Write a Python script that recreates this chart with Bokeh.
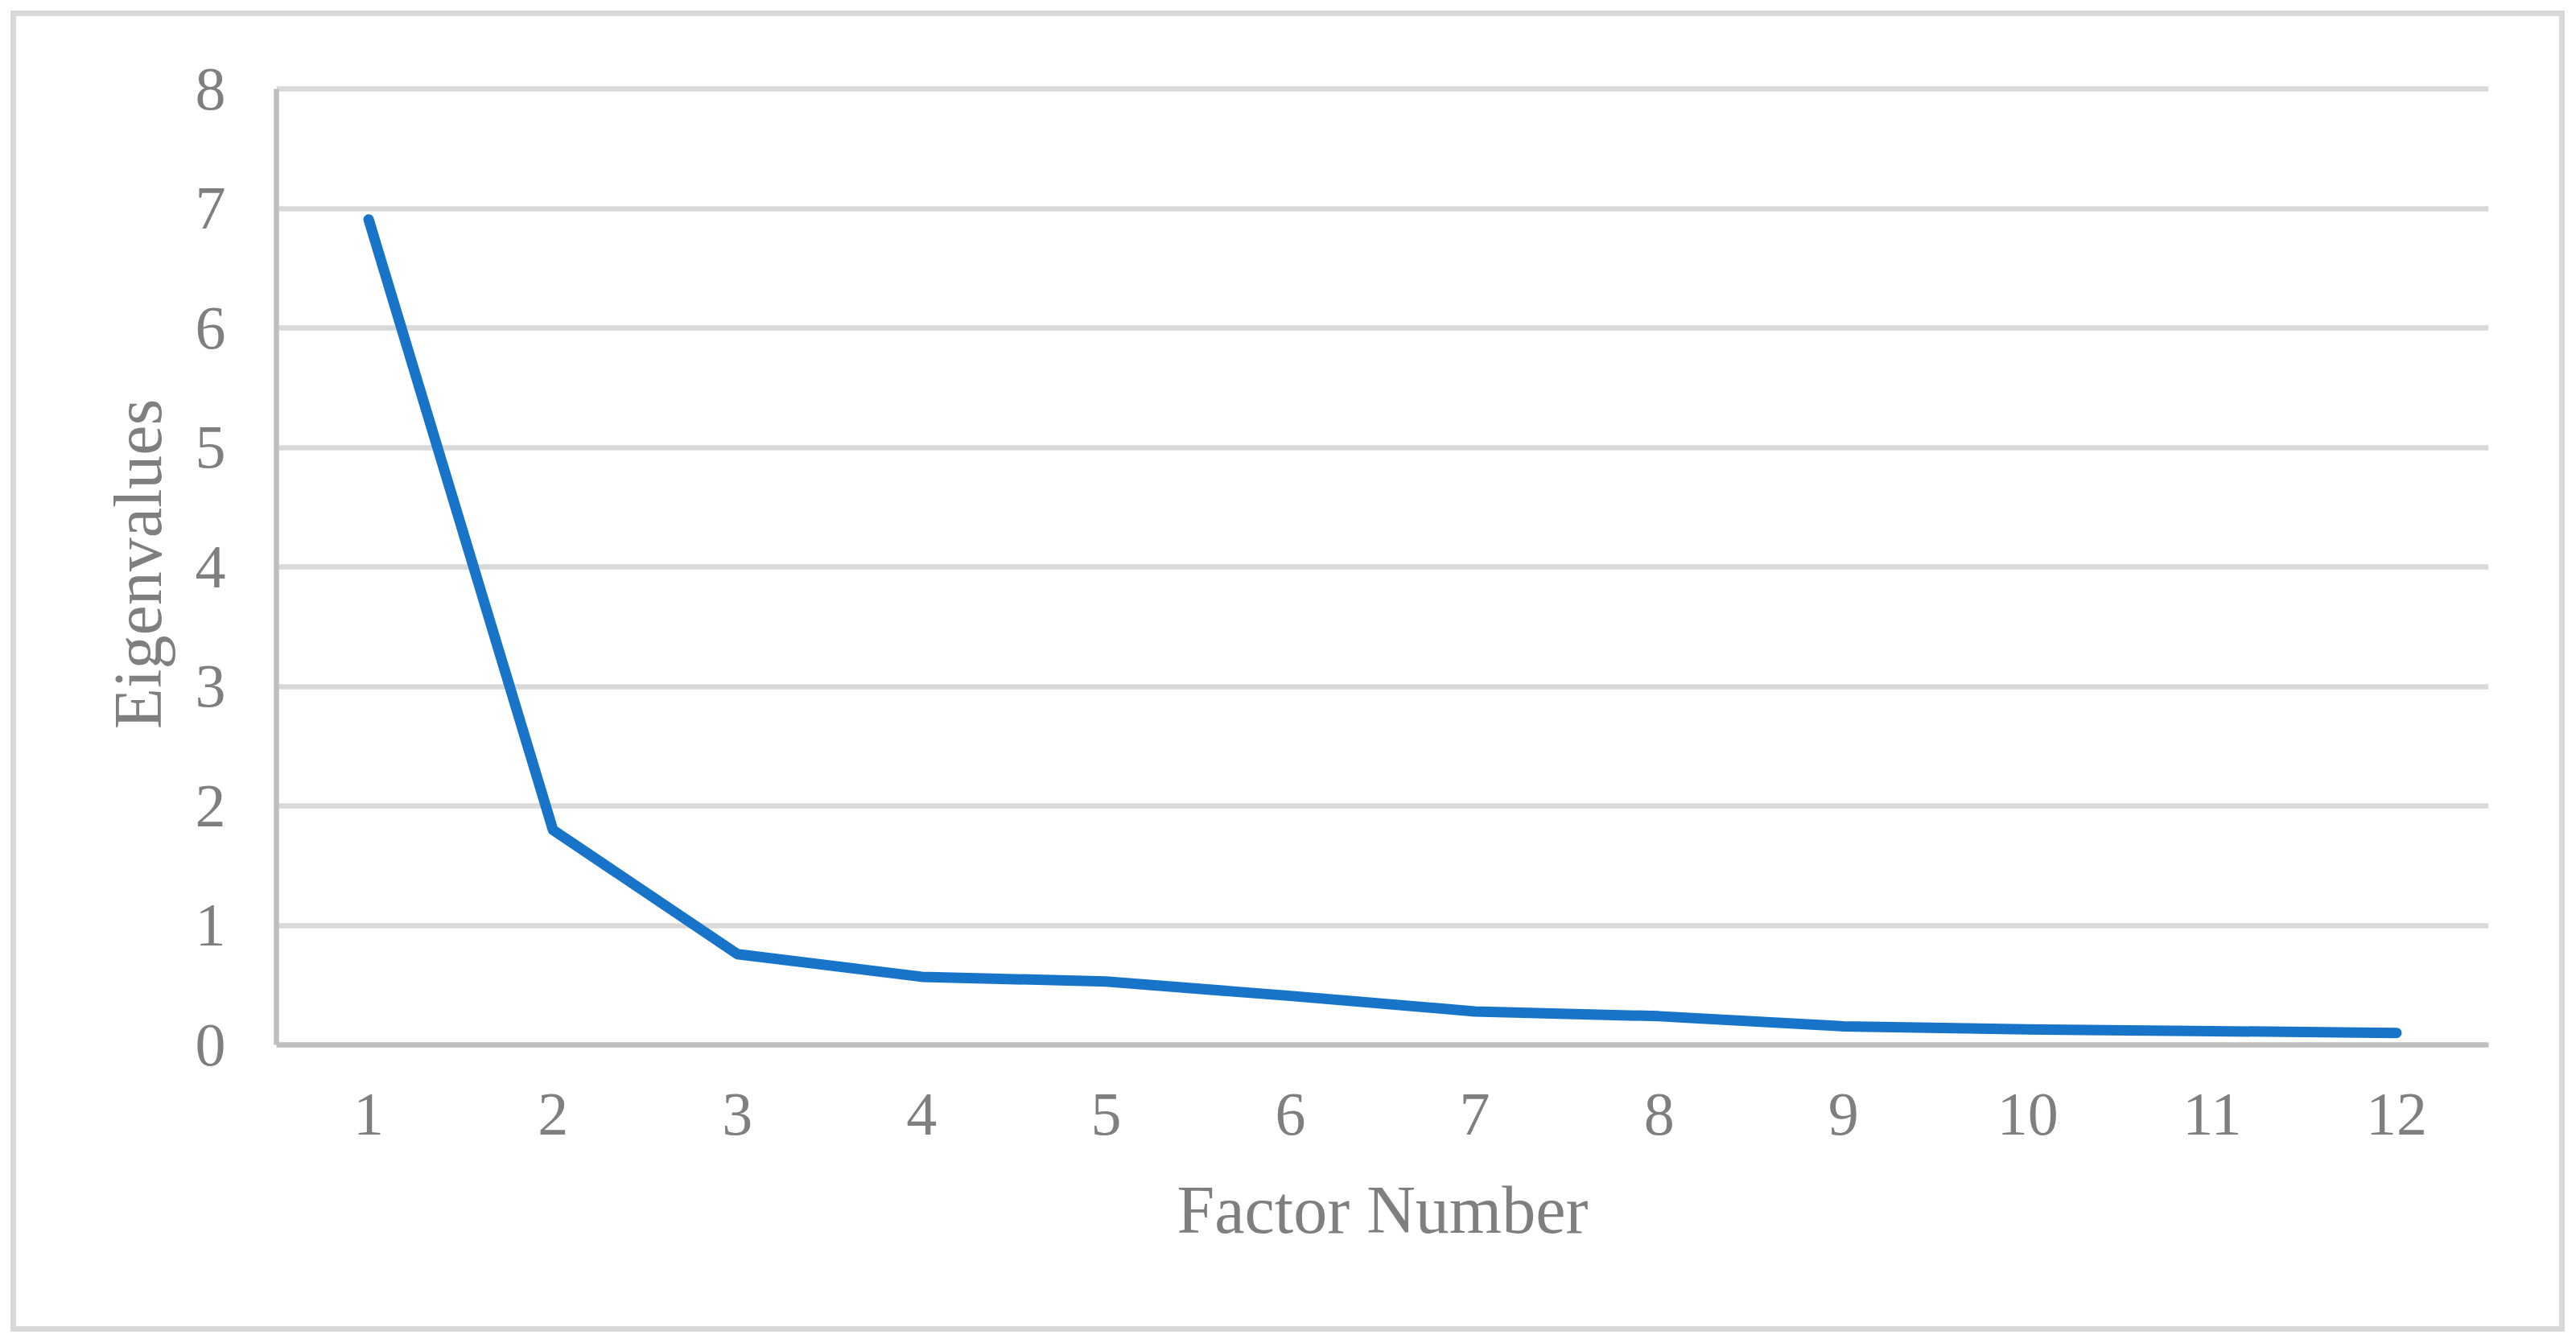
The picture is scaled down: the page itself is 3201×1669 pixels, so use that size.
from bokeh.plotting import figure
from bokeh.models import FactorRange, Range1d, FixedTicker, ColumnDataSource
from bokeh.embed import file_html
from bokeh.resources import INLINE

# ---- data ----
factors = ["1", "2", "3", "4", "5", "6", "7", "8", "9", "10", "11", "12"]
eigenvalues = [6.91, 1.80, 0.76, 0.57, 0.53, 0.41, 0.28, 0.24, 0.155, 0.13, 0.115, 0.10]
y_ticks = [0, 1, 2, 3, 4, 5, 6, 7, 8]
x_title = "Factor Number"
y_title = "Eigenvalues"

W, H = 3200, 1668
p = figure(width=W, height=H, output_backend="svg", toolbar_location=None,
           x_range=FactorRange(factors=factors, range_padding=0),
           y_range=Range1d(0, 8.05),
           min_border_left=343, min_border_right=W - 3092,
           min_border_top=103, min_border_bottom=H - 1298)
p.outline_line_color = None
p.background_fill_color = "white"
p.border_fill_color = None
# chart-area border (drawn behind the transparent canvas margin)
p.styles = {"background-color": "white",
            "box-shadow": "inset 0 0 0 13px white, inset 0 0 0 20px #D9D9D9"}

src = ColumnDataSource(dict(x=factors, y=eigenvalues))
p.line("x", "y", source=src, line_color="#1874C8", line_width=13,
       line_cap="round", line_join="round")

GRID = "#D9D9D9"
AX = "#BFBFBF"
TXT = "#7F7F7F"
FONT = "Liberation Serif"

p.xgrid.visible = False
p.ygrid.grid_line_color = GRID
p.ygrid.grid_line_width = 6.5
p.yaxis.ticker = FixedTicker(ticks=y_ticks)
p.yaxis.bounds = (y_ticks[0], y_ticks[-1])

for ax in (p.xaxis[0], p.yaxis[0]):
    ax.axis_line_color = AX
    ax.axis_line_width = 6.5
    ax.major_tick_line_color = None
    ax.minor_tick_line_color = None
    ax.major_tick_out = 0
    ax.major_tick_in = 0
    ax.major_label_text_font = FONT
    ax.major_label_text_font_size = "76px"
    ax.major_label_text_color = TXT
    ax.axis_label_text_font = FONT
    ax.axis_label_text_font_size = "84px"
    ax.axis_label_text_font_style = "normal"
    ax.axis_label_text_color = TXT

p.xaxis.axis_label = x_title
p.yaxis.axis_label = y_title
p.yaxis.major_label_standoff = 63
p.xaxis.major_label_standoff = 61
p.yaxis.axis_label_standoff = 22
p.xaxis.axis_label_standoff = 44

open("out.html", "w").write(file_html(p, INLINE))
